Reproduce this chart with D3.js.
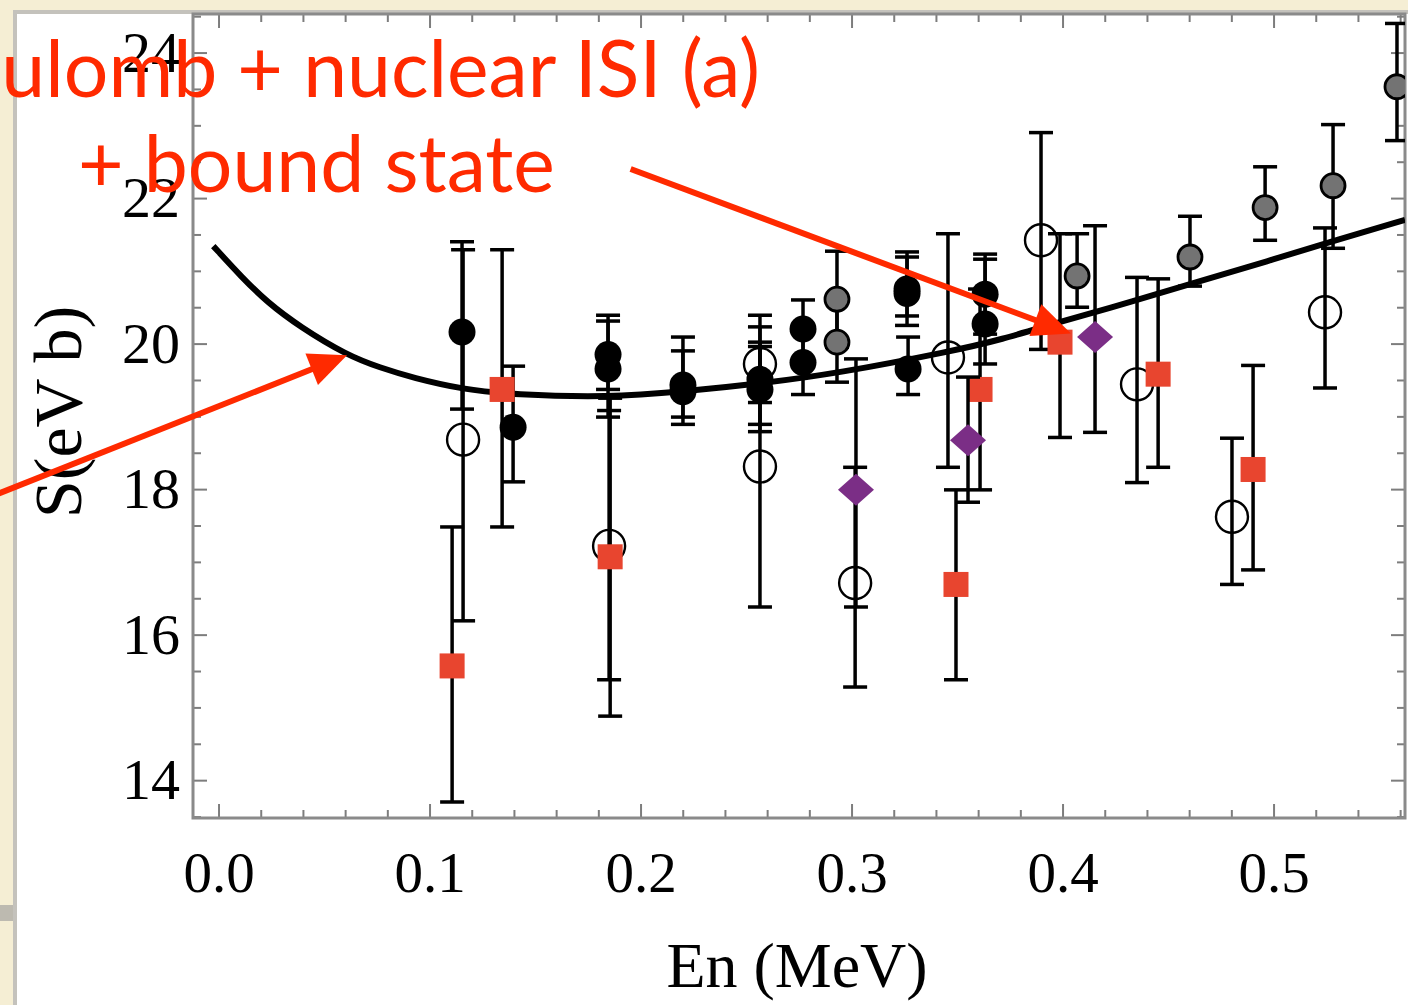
<!DOCTYPE html>
<html>
<head>
<meta charset="utf-8">
<script src="https://cdn.jsdelivr.net/npm/d3@7"></script>
<style>
html, body { margin: 0; padding: 0; background: #f5eed4; overflow: hidden; }
</style>
</head>
<body>
<svg id="chart" width="1408" height="1005"></svg>
<script>
// tick values
const xTicks = [0.0, 0.1, 0.2, 0.3, 0.4, 0.5];
const yTicks = [14, 16, 18, 20, 22, 24];

// each point: [En (MeV), S, S low, S high]
const blackPts = [
  [0.1154, 20.16, 19.10, 21.40],
  [0.1396, 18.85, 18.10, 19.69],
  [0.1846, 19.85, 19.37, 20.39],
  [0.1846, 19.65, 18.99, 20.31],
  [0.2201, 19.43, 18.89, 20.09],
  [0.2201, 19.34, 18.99, 19.90],
  [0.2566, 19.51, 18.89, 20.02],
  [0.2566, 19.37, 18.79, 19.96],
  [0.2770, 20.20, 19.76, 20.60],
  [0.2770, 19.74, 19.30, 20.18],
  [0.3263, 20.75, 20.38, 21.26],
  [0.3263, 20.69, 20.25, 21.19],
  [0.3268, 19.65, 19.30, 20.09],
  [0.3633, 20.68, 20.13, 21.23],
  [0.3633, 20.27, 19.72, 21.16]
];
const grayPts = [
  [0.2931, 20.61, 19.95, 21.27],
  [0.2931, 20.02, 19.47, 20.57],
  [0.4069, 20.93, 20.50, 21.51],
  [0.4604, 21.19, 20.79, 21.75],
  [0.4960, 21.87, 21.42, 22.43],
  [0.5282, 22.17, 21.31, 23.01],
  [0.5585, 23.53, 22.79, 24.40]
];
const openPts = [
  [0.1159, 18.68, 16.19, 21.29],
  [0.1851, 17.22, 15.38, 19.08],
  [0.2566, 19.72, 19.19, 20.39],
  [0.2566, 18.31, 16.38, 20.23],
  [0.3017, 16.71, 15.28, 18.30],
  [0.3457, 19.81, 18.30, 21.51],
  [0.3898, 21.42, 19.92, 22.90],
  [0.4353, 19.44, 18.09, 20.91],
  [0.4803, 17.62, 16.69, 18.70],
  [0.5244, 20.43, 19.39, 21.59]
];
const redPts = [
  [0.1107, 15.57, 13.70, 17.48],
  [0.1344, 19.37, 17.48, 21.29],
  [0.1856, 17.07, 14.88, 19.25],
  [0.3495, 16.69, 15.38, 17.99],
  [0.3609, 19.37, 17.99, 20.75],
  [0.3988, 20.02, 18.71, 21.51],
  [0.4453, 19.58, 18.30, 20.89],
  [0.4903, 18.27, 16.89, 19.70]
];
const purplePts = [
  [0.3021, 17.99, 16.38, 19.79],
  [0.3552, 18.67, 17.82, 19.54],
  [0.4154, 20.09, 18.78, 21.62]
];
// calculation: Coulomb + nuclear ISI (a) + bound state
const theory = [
  [-0.0025, 21.34], [0.0111, 20.91], [0.0230, 20.57], [0.0386, 20.23],
  [0.0609, 19.84], [0.0765, 19.67], [0.0922, 19.53], [0.1159, 19.37],
  [0.1396, 19.30], [0.1846, 19.26], [0.2201, 19.34], [0.2566, 19.45],
  [0.2931, 19.59], [0.3481, 19.90], [0.3704, 20.05], [0.3988, 20.30],
  [0.4334, 20.58], [0.4652, 20.86], [0.4969, 21.13], [0.5282, 21.41],
  [0.5623, 21.70]
];
// annotation arrows, in data units: [tailX, tailY, tipX, tipY]
const arrows = [
  [-0.1060, 17.92, 0.0609, 19.84],
  [0.1953, 22.40, 0.4040, 20.14]
];
const noteLines = ["Coulomb + nuclear ISI (a)", "+ bound state"];

const svg = d3.select("#chart");
const pLeft = 193, pRight = 1405, pTop = 14, pBottom = 818;

const x = d3.scaleLinear().domain([-0.0121, 0.5623]).range([pLeft, pRight]);
const y = d3.scaleLinear().domain([13.48, 24.53]).range([pBottom, pTop]);

// slide panel
svg.append("rect").attr("x", 0).attr("y", 0).attr("width", 1408).attr("height", 1005).attr("fill", "#f5eed4");
svg.append("rect").attr("x", 0).attr("y", 905).attr("width", 13).attr("height", 16).attr("fill", "#bdbab0");
svg.append("rect").attr("x", 15).attr("y", 12).attr("width", 1420).attr("height", 1020)
  .attr("fill", "#fff").attr("stroke", "#c4c2bc").attr("stroke-width", 4);

svg.append("defs").append("clipPath").attr("id", "plotClip")
  .append("rect").attr("x", pLeft).attr("y", pTop).attr("width", pRight - pLeft).attr("height", pBottom - pTop);

// axes
const minorX = d3.range(0, 0.57, 0.02).filter(v => Math.abs(v * 10 - Math.round(v * 10)) > 1e-6);
const minorY = d3.range(13.5, 24.6, 0.5).filter(v => v % 2 !== 0);
const tickColor = "#7d7d7d";

function axisGroup(axis, tx, ty, labels) {
  const g = svg.append("g").attr("transform", `translate(${tx},${ty})`).call(axis);
  g.select(".domain").remove();
  g.selectAll(".tick line").attr("stroke", tickColor).attr("stroke-width", 2);
  if (!labels) g.selectAll(".tick text").remove();
  return g;
}
const gx = axisGroup(d3.axisBottom(x).tickValues(xTicks).tickSizeInner(-14).tickPadding(34).tickFormat(d3.format(".1f")), 0, pBottom, true);
gx.selectAll(".tick text").attr("font-family", "'Liberation Serif', 'DejaVu Serif', serif").attr("font-size", 57).attr("fill", "#000");
axisGroup(d3.axisBottom(x).tickValues(minorX).tickSizeInner(-8).tickFormat(""), 0, pBottom, false);
axisGroup(d3.axisTop(x).tickValues(xTicks).tickSizeInner(-14).tickFormat(""), 0, pTop, false);
axisGroup(d3.axisTop(x).tickValues(minorX).tickSizeInner(-8).tickFormat(""), 0, pTop, false);

const gy = axisGroup(d3.axisLeft(y).tickValues(yTicks).tickSizeInner(-14).tickPadding(13), pLeft, 0, true);
gy.selectAll(".tick text").attr("font-family", "'Liberation Serif', 'DejaVu Serif', serif").attr("font-size", 58).attr("fill", "#000");
axisGroup(d3.axisLeft(y).tickValues(minorY).tickSizeInner(-8).tickFormat(""), pLeft, 0, false);
axisGroup(d3.axisRight(y).tickValues(yTicks).tickSizeInner(-14).tickFormat(""), pRight, 0, false);
axisGroup(d3.axisRight(y).tickValues(minorY).tickSizeInner(-8).tickFormat(""), pRight, 0, false);

svg.append("rect").attr("x", pLeft).attr("y", pTop).attr("width", pRight - pLeft).attr("height", pBottom - pTop)
  .attr("fill", "none").attr("stroke", "#8a8a8a").attr("stroke-width", 3);

// axis titles
svg.append("text").attr("x", 797).attr("y", 987).attr("text-anchor", "middle")
  .attr("font-family", "'Liberation Serif', serif").attr("font-size", 64).attr("fill", "#000")
  .text("En (MeV)");
svg.append("text").attr("transform", "translate(81,412) rotate(-90)").attr("text-anchor", "middle")
  .attr("font-family", "'Liberation Serif', serif").attr("font-size", 68).attr("fill", "#000")
  .text("S(eV b)");

// theory curve
const plot = svg.append("g").attr("clip-path", "url(#plotClip)");
plot.append("path").datum(theory)
  .attr("d", d3.line().x(d => x(d[0])).y(d => y(d[1])).curve(d3.curveBasis))
  .attr("fill", "none").attr("stroke", "#000").attr("stroke-width", 6);

// error bars + markers for each data set
function drawSeries(data, marker) {
  const g = plot.append("g");
  const eb = g.selectAll("g.err").data(data).enter().append("g").attr("class", "err")
    .attr("stroke", "#000").attr("stroke-width", 3.5);
  eb.append("line").attr("x1", d => x(d[0])).attr("x2", d => x(d[0])).attr("y1", d => y(d[2])).attr("y2", d => y(d[3]));
  eb.append("line").attr("x1", d => x(d[0]) - 12).attr("x2", d => x(d[0]) + 12).attr("y1", d => y(d[2])).attr("y2", d => y(d[2]));
  eb.append("line").attr("x1", d => x(d[0]) - 12).attr("x2", d => x(d[0]) + 12).attr("y1", d => y(d[3])).attr("y2", d => y(d[3]));
  marker(g.selectAll("g.pt").data(data).enter().append("g").attr("class", "pt")
    .attr("transform", d => `translate(${x(d[0])},${y(d[1])})`));
}
drawSeries(openPts, s => s.append("circle").attr("r", 16).attr("fill", "none").attr("stroke", "#000").attr("stroke-width", 2.4));
drawSeries(blackPts, s => s.append("circle").attr("r", 13.5).attr("fill", "#000"));
drawSeries(grayPts, s => s.append("circle").attr("r", 12).attr("fill", "#737373").attr("stroke", "#000").attr("stroke-width", 2.8));
drawSeries(redPts, s => s.append("rect").attr("x", -12.5).attr("y", -12.5).attr("width", 25).attr("height", 25).attr("fill", "#e8452f"));
drawSeries(purplePts, s => s.append("path").attr("d", "M-18,0L0,-16L18,0L0,16Z").attr("fill", "#7b2e86"));

// annotation
const red = "#ff2a00";
const ag = svg.append("g");
arrows.forEach(a => {
  const x0 = x(a[0]), y0 = y(a[1]), x1 = x(a[2]), y1 = y(a[3]);
  const ang = Math.atan2(y1 - y0, x1 - x0), len = 38, hw = 17;
  const bx = x1 - len * Math.cos(ang), by = y1 - len * Math.sin(ang);
  ag.append("line").attr("x1", x0).attr("y1", y0).attr("x2", bx + 4 * Math.cos(ang)).attr("y2", by + 4 * Math.sin(ang))
    .attr("stroke", red).attr("stroke-width", 6);
  ag.append("path").attr("fill", red).attr("d", `M${x1},${y1}L${bx - hw * Math.sin(ang)},${by + hw * Math.cos(ang)}L${bx + hw * Math.sin(ang)},${by - hw * Math.cos(ang)}Z`);
});

const font = "Lato, 'Open Sans', sans-serif";
const t2 = svg.append("text").attr("x", 78).attr("y", 192).attr("font-family", font).attr("font-size", 100).attr("fill", red).text(noteLines[1]);
const fs = 100 * 477 / t2.node().getComputedTextLength();
t2.attr("font-size", fs);
svg.append("text").attr("x", 760).attr("y", 97).attr("text-anchor", "end").attr("font-family", font)
  .attr("font-size", fs).attr("fill", red).text(noteLines[0]);
</script>
</body>
</html>
